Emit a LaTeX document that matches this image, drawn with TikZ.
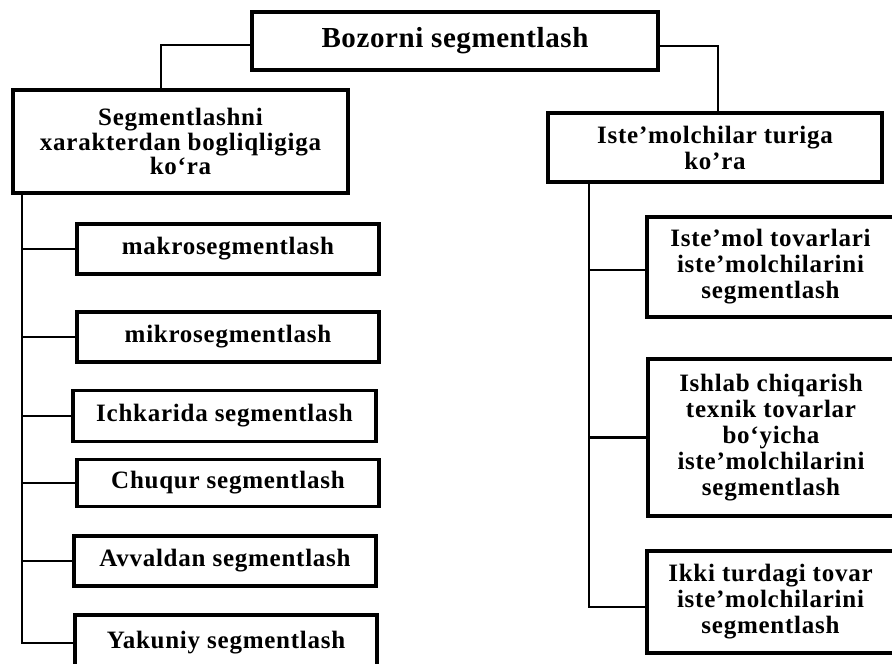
\documentclass[tikz,border=0pt]{standalone}
\usepackage{fontspec}
\setmainfont{Liberation Serif}
\newfontfamily\cf[LetterSpace=3]{Liberation Serif}
\newfontfamily\tf[LetterSpace=2]{Liberation Serif}
\begin{document}
\begin{tikzpicture}[x=1pt,y=-1pt,
  bx/.style={draw,line width=3.1pt,inner sep=0pt,align=center,
    font=\cf\bfseries\fontsize{25}{24.5}\selectfont},
  rbx/.style={bx,font=\cf\bfseries\fontsize{25}{26}\selectfont},
  ln/.style={line width=2.8pt}]
\useasboundingbox (0,0) rectangle (892,664);
\clip (0,0) rectangle (892,664);
\fill[white] (0,0) rectangle (892,664);
% top level
\node[bx,minimum width=406pt,minimum height=58pt,
  font=\tf\bfseries\fontsize{29}{30}\selectfont] (top) at (455,41) {Bozorni segmentlash};
\node[bx,minimum width=335pt,minimum height=103pt] (L) at (180.5,141.5)
  {Segmentlashni\\xarakterdan bogliqligiga\\ko‘ra};
\node[rbx,minimum width=334pt,minimum height=69pt] (R) at (715,147.5)
  {Iste’molchilar turiga\\ko’ra};
% left children
\node[bx,minimum width=302pt,minimum height=50pt] (makro) at (228,249) {makrosegmentlash};
\node[bx,minimum width=302pt,minimum height=50pt] (mikro) at (228,337) {mikrosegmentlash};
\node[bx,minimum width=303pt,minimum height=51pt] (ichk) at (224.5,416) {Ichkarida segmentlash};
\node[bx,minimum width=302pt,minimum height=47pt] (chuq) at (228,483) {Chuqur segmentlash};
\node[bx,minimum width=302pt,minimum height=50pt] (avv) at (225,561) {Avvaldan segmentlash};
\node[bx,minimum width=302pt,minimum height=56pt] (yak) at (226,643) {Yakuniy segmentlash};
% right children
\node[rbx,minimum width=247pt,minimum height=100pt] (r1) at (770.5,267)
  {Iste’mol tovarlari\\iste’molchilarini\\segmentlash};
\node[rbx,minimum width=246pt,minimum height=157pt] (r2) at (771,437.5)
  {Ishlab chiqarish\\texnik tovarlar\\bo‘yicha\\iste’molchilarini\\segmentlash};
\node[rbx,minimum width=247pt,minimum height=102pt] (r3) at (770.5,602)
  {Ikki turdagi tovar\\iste’molchilarini\\segmentlash};
% connectors from top
\coordinate (jl) at (161,45);
\coordinate (jr) at (718,46);
\draw[ln] (jl -| top.west) -- (jl) -- (jl |- L.north);
\draw[ln] (jr -| top.east) -- (jr) -- (jr |- R.north);
% left trunk
\coordinate (lt) at (22,0);
\draw[ln] (lt |- L.south) -- (lt |- yak.west) -- (yak.west);
\foreach \n in {makro,mikro,ichk,chuq,avv}
  \draw[ln] (lt |- \n.west) -- (\n.west);
% right trunk
\coordinate (rt) at (589,0);
\coordinate (r1c) at ([yshift=-3pt]r1.west);
\coordinate (r3c) at ([yshift=-5pt]r3.west);
\draw[ln] (rt |- R.south) -- (rt |- r3c) -- (r3c);
\draw[ln] (rt |- r1c) -- (r1c);
\draw[ln] (rt |- r2.west) -- (r2.west);
\end{tikzpicture}
\end{document}
